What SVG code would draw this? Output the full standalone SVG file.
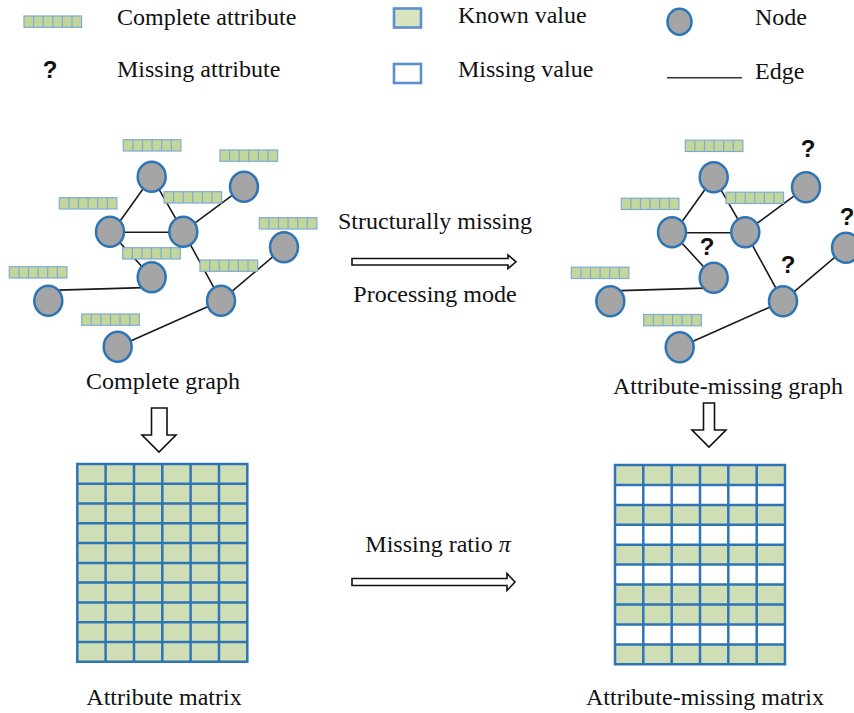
<svg xmlns="http://www.w3.org/2000/svg" xmlns:xlink="http://www.w3.org/1999/xlink" width="854" height="713" viewBox="0 0 854 713">
<style>
.t{font-family:"Liberation Serif","Times New Roman",serif;font-size:24px;fill:#111}
.q{font-family:"Liberation Sans",Arial,sans-serif;font-size:24px;font-weight:bold;fill:#111}
.node{fill:#a5a5a5;stroke:#2e75b6;stroke-width:2.5}
.edge{stroke:#1a1a1a;stroke-width:1.6;fill:none}
.harrow{fill:#fff;stroke:#111;stroke-width:1.6;stroke-linejoin:miter}
.grid{stroke:#2e75b6;stroke-width:2.5;fill:none}
</style>
<defs>
<g id="attr">
<rect x="0" y="0" width="57.6" height="11.3" fill="#c4d79b" stroke="#7eaad8" stroke-width="1.2"/>
<path d="M9.6,0V11.3M19.2,0V11.3M28.8,0V11.3M38.4,0V11.3M48,0V11.3" stroke="#7eaad8" stroke-width="1.2"/>
</g>
</defs>
<rect width="854" height="713" fill="#fff"/>

<g id="legend">
<use xlink:href="#attr" x="24" y="16"/>
<text class="t" x="117" y="25">Complete attribute</text>
<text class="q" x="50" y="78" text-anchor="middle" font-size="22">?</text>
<text class="t" x="117" y="77">Missing attribute</text>
<rect x="394" y="8.5" width="27" height="19" fill="#d7e4bd" stroke="#5b8fd0" stroke-width="2.6"/>
<text class="t" x="458" y="23">Known value</text>
<rect x="394" y="64" width="27" height="19" fill="#fff" stroke="#5b8fd0" stroke-width="2.6"/>
<text class="t" x="458" y="77">Missing value</text>
<ellipse class="node" cx="679.5" cy="21.7" rx="12" ry="13"/>
<text class="t" x="755" y="25">Node</text>
<line x1="667" y1="77.7" x2="742" y2="77.7" stroke="#333" stroke-width="1.6"/>
<text class="t" x="755" y="79">Edge</text>
</g>

<g id="connectors">
<path class="edge" d="M151.7,176.7L118,224M151.7,176.7L183.3,231.7M110,232.3H183.3M183.3,231.7L244,186.7M110,231.7L151.7,277.3M183.3,231.7L221,300.7M50,290.4L151.7,287.4M221,300.7L284,247.3M117.7,346.7L221,300.7"/>
<path class="edge" d="M713.7,177.2L680,224.5M713.7,177.2L745.3,232.2M672,232.8H745.3M745.3,232.2L806,187.2M672,232.2L713.7,277.8M745.3,232.2L783,301.2M612,290.9L713.7,287.9M783,301.2L846,247.8M679.7,347.2L783,301.2"/>
<path class="harrow" d="M352,258.5H508V255L516,261.8L508,268.6V265H352Z"/>
<path class="harrow" d="M352,578.5H507V573.5L515,582L507,590.5V585.5H352Z"/>
<path class="harrow" d="M151.5,408H167V435H176L159,452L142,435H151.5Z"/>
<path class="harrow" d="M703.5,403H714.5V430H726L709,447L692,430H703.5Z"/>
</g>

<g id="complete-graph">
<use xlink:href="#attr" x="123.3" y="139.7"/>
<use xlink:href="#attr" x="220" y="150"/>
<use xlink:href="#attr" x="59.3" y="197.7"/>
<use xlink:href="#attr" x="164" y="191.7"/>
<use xlink:href="#attr" x="259.3" y="217.7"/>
<use xlink:href="#attr" x="122.7" y="247.7"/>
<use xlink:href="#attr" x="9.3" y="266.7"/>
<use xlink:href="#attr" x="200" y="260"/>
<use xlink:href="#attr" x="81.7" y="314"/>
<g id="g1n1"><ellipse class="node" cx="151.7" cy="176.7" rx="14" ry="15"/></g>
<g id="g1n2"><ellipse class="node" cx="244" cy="186.7" rx="14" ry="15"/></g>
<g id="g1n3"><ellipse class="node" cx="110" cy="231.7" rx="14" ry="15"/></g>
<g id="g1n4"><ellipse class="node" cx="183.3" cy="231.7" rx="14" ry="15"/></g>
<g id="g1n5"><ellipse class="node" cx="284" cy="247.3" rx="14" ry="15"/></g>
<g id="g1n6"><ellipse class="node" cx="151.7" cy="277.3" rx="14" ry="15"/></g>
<g id="g1n7"><ellipse class="node" cx="48.3" cy="300.7" rx="14" ry="15"/></g>
<g id="g1n8"><ellipse class="node" cx="221" cy="300.7" rx="14" ry="15"/></g>
<g id="g1n9"><ellipse class="node" cx="117.7" cy="346.7" rx="14" ry="15"/></g>
<text class="t" x="163" y="389" text-anchor="middle">Complete graph</text>
</g>

<g id="missing-graph">
<use xlink:href="#attr" x="685.3" y="140.2"/>
<use xlink:href="#attr" x="621.3" y="198.2"/>
<use xlink:href="#attr" x="726" y="192.2"/>
<use xlink:href="#attr" x="571.3" y="267.2"/>
<use xlink:href="#attr" x="643.7" y="314.5"/>
<text class="q" x="808" y="157" text-anchor="middle">?</text>
<text class="q" x="847" y="225" text-anchor="middle">?</text>
<text class="q" x="707" y="255" text-anchor="middle">?</text>
<text class="q" x="788" y="273" text-anchor="middle">?</text>
<g id="g2n1"><ellipse class="node" cx="713.7" cy="177.2" rx="14" ry="15"/></g>
<g id="g2n2"><ellipse class="node" cx="806" cy="187.2" rx="14" ry="15"/></g>
<g id="g2n3"><ellipse class="node" cx="672" cy="232.2" rx="14" ry="15"/></g>
<g id="g2n4"><ellipse class="node" cx="745.3" cy="232.2" rx="14" ry="15"/></g>
<g id="g2n5"><ellipse class="node" cx="846" cy="247.8" rx="14" ry="15"/></g>
<g id="g2n6"><ellipse class="node" cx="713.7" cy="277.8" rx="14" ry="15"/></g>
<g id="g2n7"><ellipse class="node" cx="610.3" cy="301.2" rx="14" ry="15"/></g>
<g id="g2n8"><ellipse class="node" cx="783" cy="301.2" rx="14" ry="15"/></g>
<g id="g2n9"><ellipse class="node" cx="679.7" cy="347.2" rx="14" ry="15"/></g>
<text class="t" x="728" y="394" text-anchor="middle">Attribute-missing graph</text>
</g>

<g id="labels">
<text class="t" x="435" y="229" text-anchor="middle">Structurally missing</text>
<text class="t" x="435" y="302" text-anchor="middle">Processing mode</text>
<text class="t" x="438" y="552" text-anchor="middle">Missing ratio <tspan font-style="italic">π</tspan></text>
</g>

<g id="attribute-matrix">
<rect x="77.3" y="464" width="170" height="197.7" fill="#cfdeb4"/>
<path class="grid" d="M77.3,464H247.3V661.7H77.3ZM105.6,464V661.7M134,464V661.7M162.3,464V661.7M190.6,464V661.7M219,464V661.7M77.3,483.8H247.3M77.3,503.5H247.3M77.3,523.3H247.3M77.3,543.1H247.3M77.3,562.9H247.3M77.3,582.6H247.3M77.3,602.4H247.3M77.3,622.2H247.3M77.3,641.9H247.3"/>
<text class="t" x="164" y="705" text-anchor="middle">Attribute matrix</text>
</g>

<g id="missing-matrix">
<rect x="615" y="465" width="170" height="199.3" fill="#cfdeb4"/>
<rect x="615" y="484.9" width="170" height="19.9" fill="#fff"/>
<rect x="615" y="524.8" width="170" height="19.9" fill="#fff"/>
<rect x="615" y="564.6" width="170" height="19.9" fill="#fff"/>
<rect x="615" y="624.4" width="170" height="19.9" fill="#fff"/>
<path class="grid" d="M615,465H785V664.3H615ZM643.3,465V664.3M671.7,465V664.3M700,465V664.3M728.3,465V664.3M756.7,465V664.3M615,484.9H785M615,504.9H785M615,524.8H785M615,544.7H785M615,564.6H785M615,584.6H785M615,604.5H785M615,624.4H785M615,644.4H785"/>
<text class="t" x="705" y="705" text-anchor="middle">Attribute-missing matrix</text>
</g>
</svg>
